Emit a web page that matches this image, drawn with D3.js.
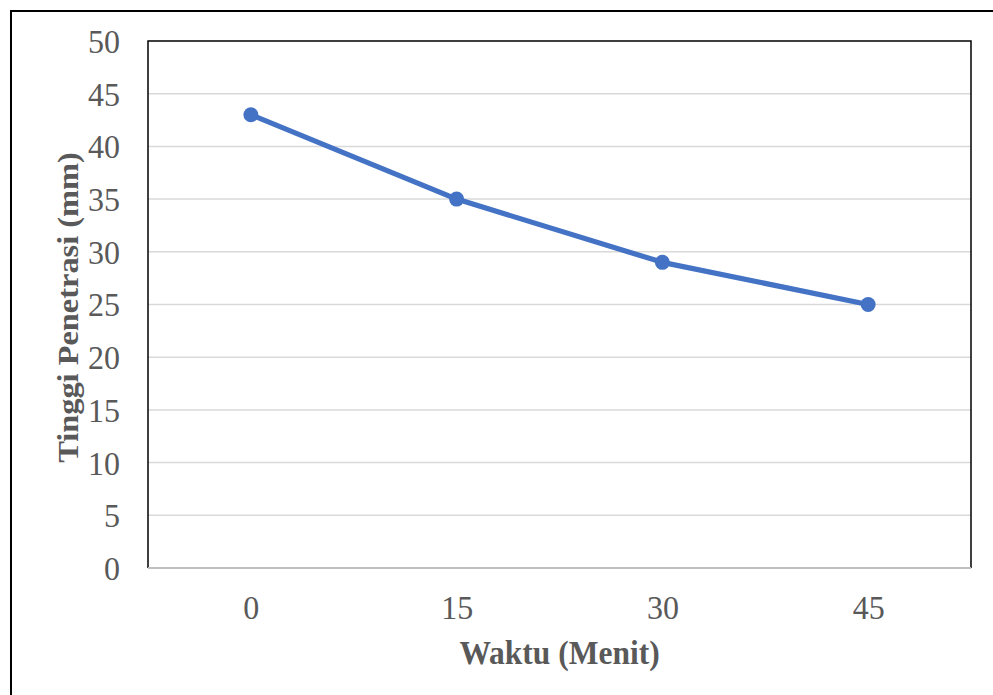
<!DOCTYPE html>
<html>
<head>
<meta charset="utf-8">
<script src="https://cdn.jsdelivr.net/npm/d3@7"></script>
<style>
  body { margin: 0; background: #fff; }
  text { font-family: "Liberation Serif", "Times New Roman", serif; fill: #595959; }
</style>
</head>
<body>
<div id="chart-area"></div>
<script>
const WAKTU = ["0", "15", "30", "45"]
const TINGGI = [43, 35, 29, 25]
const Y_TICKS = [0, 5, 10, 15, 20, 25, 30, 35, 40, 45, 50]

const SVG_WIDTH = 993
const SVG_HEIGHT = 695
const PLOT = { left: 148, right: 971, top: 41, bottom: 568 }
const STRETCH = 1.08 // text in the reference is a little taller than wide

const svg = d3.select("#chart-area").append("svg")
  .attr("width", SVG_WIDTH)
  .attr("height", SVG_HEIGHT)

// outer frame (runs off the right and bottom edges)
svg.append("rect")
  .attr("x", 11).attr("y", 11)
  .attr("width", 1000).attr("height", 700)
  .attr("fill", "none")
  .attr("stroke", "#000")
  .attr("stroke-width", 2)

const x = d3.scalePoint()
  .domain(WAKTU)
  .range([PLOT.left, PLOT.right])
  .padding(0.5)

const y = d3.scaleLinear()
  .domain([0, 50])
  .range([PLOT.bottom, PLOT.top])

// gridlines
svg.append("g")
  .selectAll("line")
  .data(Y_TICKS.filter(d => d > 0 && d < 50))
  .enter().append("line")
  .attr("x1", PLOT.left).attr("x2", PLOT.right)
  .attr("y1", d => y(d)).attr("y2", d => y(d))
  .attr("stroke", "#d9d9d9")
  .attr("stroke-width", 1.5)

// plot frame: left, top, right black
svg.append("path")
  .attr("d", `M${PLOT.left},${PLOT.bottom}V${PLOT.top}H${PLOT.right}V${PLOT.bottom}`)
  .attr("fill", "none")
  .attr("stroke", "#000")
  .attr("stroke-width", 1.5)

// x axis line
svg.append("line")
  .attr("x1", PLOT.left).attr("x2", PLOT.right)
  .attr("y1", PLOT.bottom).attr("y2", PLOT.bottom)
  .attr("stroke", "#bfbfbf")
  .attr("stroke-width", 2)

// y tick labels
const yAxisCall = d3.axisLeft(y).tickValues(Y_TICKS).tickSize(0).tickPadding(28)
const yAxis = svg.append("g")
  .attr("transform", `translate(${PLOT.left}, 0)`)
  .call(yAxisCall)
yAxis.select(".domain").remove()
yAxis.selectAll("text")
  .attr("font-size", "32px")
  .attr("font-family", "Liberation Serif")
  .attr("fill", "#595959")
  .attr("dy", "0.33em")
  .attr("transform", `scale(1, ${STRETCH})`)

// x tick labels
const xAxisCall = d3.axisBottom(x).tickSize(0).tickPadding(24)
const xAxis = svg.append("g")
  .attr("transform", `translate(0, ${PLOT.bottom})`)
  .call(xAxisCall)
xAxis.select(".domain").remove()
xAxis.selectAll("text")
  .attr("font-size", "32px")
  .attr("font-family", "Liberation Serif")
  .attr("fill", "#595959")
  .attr("dy", "0.72em")
  .attr("transform", `scale(1, ${STRETCH})`)

// axis titles
svg.append("text")
  .attr("transform", `translate(${(PLOT.left + PLOT.right) / 2}, 664) scale(1, ${STRETCH})`)
  .attr("text-anchor", "middle")
  .attr("font-size", "31.5px")
  .attr("font-weight", "bold")
  .text("Waktu (Menit)")

svg.append("text")
  .attr("transform", `translate(78, ${(PLOT.top + PLOT.bottom) / 2 + 3}) scale(1, ${STRETCH}) rotate(-90)`)
  .attr("text-anchor", "middle")
  .attr("font-size", "30px")
  .attr("font-weight", "bold")
  .text("Tinggi Penetrasi (mm)")

// series
const line = d3.line()
  .x((d, i) => x(WAKTU[i]))
  .y(d => y(d))

svg.append("path")
  .datum(TINGGI)
  .attr("d", line)
  .attr("fill", "none")
  .attr("stroke", "#4472c4")
  .attr("stroke-width", 5.2)
  .attr("stroke-linejoin", "round")

svg.append("g")
  .selectAll("circle")
  .data(TINGGI)
  .enter().append("circle")
  .attr("cx", (d, i) => x(WAKTU[i]))
  .attr("cy", d => y(d))
  .attr("r", 7.5)
  .attr("fill", "#4472c4")
</script>
</body>
</html>
